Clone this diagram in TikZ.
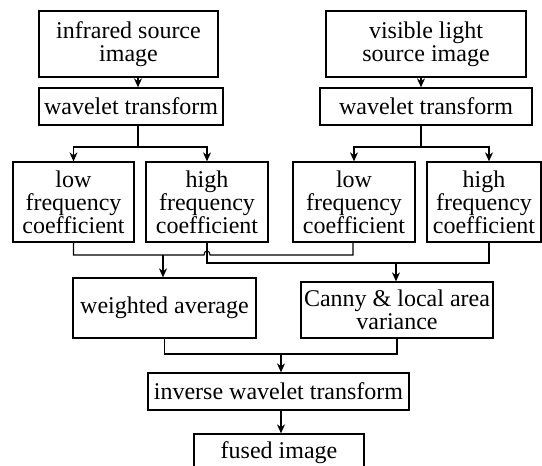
\documentclass[tikz,border=0pt]{standalone}
\usepackage{fontspec}
\setmainfont{Liberation Serif}
\usetikzlibrary{arrows.meta}
\begin{document}
\begin{tikzpicture}[x=1pt,y=-1pt,
  box/.style={draw, line width=1.3pt, inner sep=0pt, align=center,
              font=\fontsize{24}{23}\selectfont},
  link/.style={line width=1.1pt},
  arr/.style={link, -{Stealth[length=9pt,width=8pt]}}]
\useasboundingbox (0,0) rectangle (542,466);
\clip (0,0) rectangle (542,466);

% source images and their wavelet transforms
\node[box, minimum width=179pt, minimum height=66pt] (ir) at (128.5,44) {infrared source\\image};
\node[box, minimum width=184pt, minimum height=37pt] (wl) at (131,106.5) {wavelet transform};
\node[box, minimum width=200pt, minimum height=66pt] (vis) at (426,44) {visible light\\source image};
\node[box, minimum width=212pt, minimum height=37pt] (wr) at (426,106.5) {wavelet transform};

% coefficient boxes
\node[box, minimum width=121pt, minimum height=80pt] (lowL) at (73.5,202) {low\\frequency\\coefficient};
\node[box, minimum width=122pt, minimum height=80pt] (highL) at (207,202) {high\\frequency\\coefficient};
\node[box, minimum width=122pt, minimum height=80pt] (lowR) at (354,202) {low\\frequency\\coefficient};
\node[box, minimum width=114pt, minimum height=80pt] (highR) at (484,202) {high\\frequency\\coefficient};

% fusion rules
\node[box, minimum width=183pt, minimum height=60pt] (wa) at (164.5,308) {weighted average};
\node[box, minimum width=192pt, minimum height=56pt] (cv) at (397,310) {Canny \& local area\\variance};

% reconstruction
\node[box, minimum width=261pt, minimum height=37pt] (inv) at (278.5,391.5) {inverse wavelet transform};
\node[box, minimum width=170pt, minimum height=37pt] (fu) at (279,452.5) {fused image};

% connector positions
\coordinate (xa) at (138,0);
\coordinate (xb) at (421,0);
\coordinate (xc) at (489,0);
\coordinate (bl) at (138,147);
\coordinate (br) at (421,147);
\coordinate (hopA) at (204,255);
\coordinate (hopB) at (210,255);
\coordinate (r1) at (353,255);
\coordinate (j1) at (163,255);
\coordinate (j2) at (396,263);
\coordinate (j3) at (281,354);

% decomposition
\draw[arr] (ir.south -| xa) -- (wl.north -| xa);
\draw[arr] (wl.south -| xa) -- (bl) -| (lowL.north);
\draw[arr] (bl) -| (highL.north);
\draw[arr] (vis.south -| xb) -- (wr.north -| xb);
\draw[arr] (wr.south -| xb) -- (br) -| (lowR.north);
\draw[arr] (br) -| (highR.north -| xc);

% low frequency coefficients (hopping over the high frequency line)
\draw[link] (lowL.south) |- (hopA) .. controls +(0,-5.5) and +(0,-5.5) .. (hopB)
  -- (r1) -- (lowR.south -| r1);
\draw[arr] (j1) -- (wa.north -| j1);

% high frequency coefficients
\draw[link] (highL.south) |- (j2) -| (highR.south -| xc);
\draw[arr] (j2) -- (cv.north -| j2);

% merge and reconstruct
\draw[link] (wa.south) |- (j3) -| (cv.south);
\draw[arr] (j3) -- (inv.north -| j3);
\draw[arr] (inv.south -| j3) -- (fu.north -| j3);
\end{tikzpicture}
\end{document}
